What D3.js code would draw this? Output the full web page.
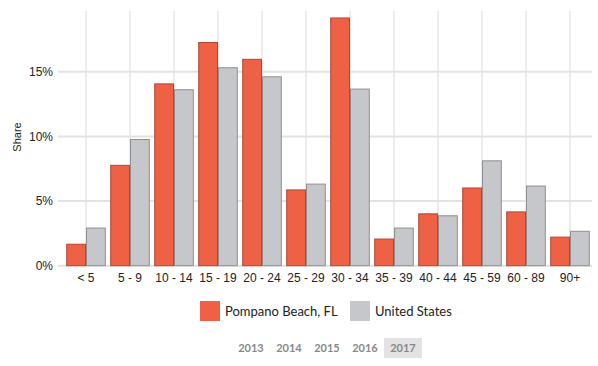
<!DOCTYPE html>
<html><head><meta charset="utf-8">
<script src="https://cdn.jsdelivr.net/npm/d3@7"></script>
<style>
body{margin:0;background:#fff;}
svg{display:block;}
</style></head>
<body>
<svg id="chart" width="598" height="366"></svg>
<script>
const categories = ["< 5","5 - 9","10 - 14","15 - 19","20 - 24","25 - 29","30 - 34","35 - 39","40 - 44","45 - 59","60 - 89","90+"];
const pompano = [1.7,7.8,14.1,17.3,16.0,5.9,19.2,2.1,4.05,6.05,4.2,2.25];
const unitedStates = [2.95,9.8,13.65,15.35,14.65,6.35,13.7,2.95,3.9,8.15,6.2,2.7];
const seriesNames = ["Pompano Beach, FL","United States"];
const yTicks = [0,5,10,15];
const years = ["2013","2014","2015","2016","2017"];
const activeYear = "2017";

const svg = d3.select("#chart");
const m = {left:64, right:6, top:11, bottom:100};
const W = 598, H = 366;
const x = d3.scaleBand().domain(categories).range([m.left, W - m.right]).paddingInner(0.1).paddingOuter(0.05);
const y = d3.scaleLinear().domain([0, 19.7]).range([265.7, m.top]);
const sub = d3.scaleBand().domain(seriesNames).range([0, x.bandwidth()]).padding(0);

// vertical gridlines at category centers
svg.append("g").selectAll("line").data(categories).join("line")
  .attr("x1", d => x(d) + x.bandwidth()/2).attr("x2", d => x(d) + x.bandwidth()/2)
  .attr("y1", m.top).attr("y2", y(0))
  .attr("stroke", "#d9d9d9").attr("stroke-width", 1);

// horizontal gridlines
svg.append("g").selectAll("line").data(yTicks).join("line")
  .attr("x1", 58).attr("x2", W - m.right)
  .attr("y1", d => y(d)).attr("y2", d => y(d))
  .attr("stroke", "#e2e2e2").attr("stroke-width", 2);

// y axis labels
const yAxis = d3.axisLeft(y).tickValues(yTicks).tickFormat(d => d + "%").tickSize(0).tickPadding(0);
const ya = svg.append("g").attr("transform", "translate(53,0)").call(yAxis);
ya.select(".domain").remove();
ya.selectAll("text").attr("font-family", "Liberation Sans, Arial, sans-serif").attr("font-size", 12).attr("fill", "#222");

svg.append("text").attr("transform", "translate(21," + 137 + ") rotate(-90)")
  .attr("text-anchor", "middle").attr("font-family", "Liberation Sans, Arial, sans-serif")
  .attr("font-size", 11).attr("fill", "#222").text("Share");

// bars
const data = categories.map((c, i) => ({c, vals: [{s: seriesNames[0], v: pompano[i]}, {s: seriesNames[1], v: unitedStates[i]}]}));
const fills = {[seriesNames[0]]: "#ef6145", [seriesNames[1]]: "#c6c7ca"};
const strokes = {[seriesNames[0]]: "#b8432e", [seriesNames[1]]: "#8f8f91"};
svg.append("g").selectAll("g").data(data).join("g")
  .attr("transform", d => "translate(" + x(d.c) + ",0)")
  .selectAll("rect").data(d => d.vals).join("rect")
  .attr("x", d => sub(d.s) + 0.5).attr("width", sub.bandwidth() - 1)
  .attr("y", d => y(d.v) + 0.5).attr("height", d => y(0) - y(d.v) - 0.5)
  .attr("fill", d => fills[d.s]).attr("stroke", d => strokes[d.s]).attr("stroke-width", 1);

// x axis labels
const xAxis = d3.axisBottom(x).tickSize(0).tickPadding(0);
const xa = svg.append("g").attr("transform", "translate(0,273)").call(xAxis);
xa.select(".domain").remove();
xa.selectAll("text").attr("font-family", "Liberation Sans, Arial, sans-serif").attr("font-size", 12).attr("fill", "#222").attr("dy", "0.71em");

// legend
const lx = [200, 350];
const lg = svg.append("g").selectAll("g").data(seriesNames).join("g")
  .attr("transform", (d, i) => "translate(" + lx[i] + ",301)");
lg.append("rect").attr("width", 20).attr("height", 20).attr("fill", d => fills[d]);
lg.append("text").attr("x", 25).attr("y", 15).attr("font-family", "Lato, sans-serif")
  .attr("font-size", 13).attr("fill", "#222").text(d => d);

// year selector
const yx = d3.scalePoint().domain(years).range([251, 403]);
svg.append("rect").attr("x", yx(activeYear) - 19).attr("y", 338).attr("width", 38).attr("height", 20).attr("fill", "#e3e3e3");
svg.append("g").selectAll("text").data(years).join("text")
  .attr("x", d => yx(d)).attr("y", 352).attr("text-anchor", "middle")
  .attr("font-family", "Lato, sans-serif").attr("font-weight", "bold").attr("font-size", 11)
  .attr("fill", "#888").text(d => d);
</script>
</body></html>
